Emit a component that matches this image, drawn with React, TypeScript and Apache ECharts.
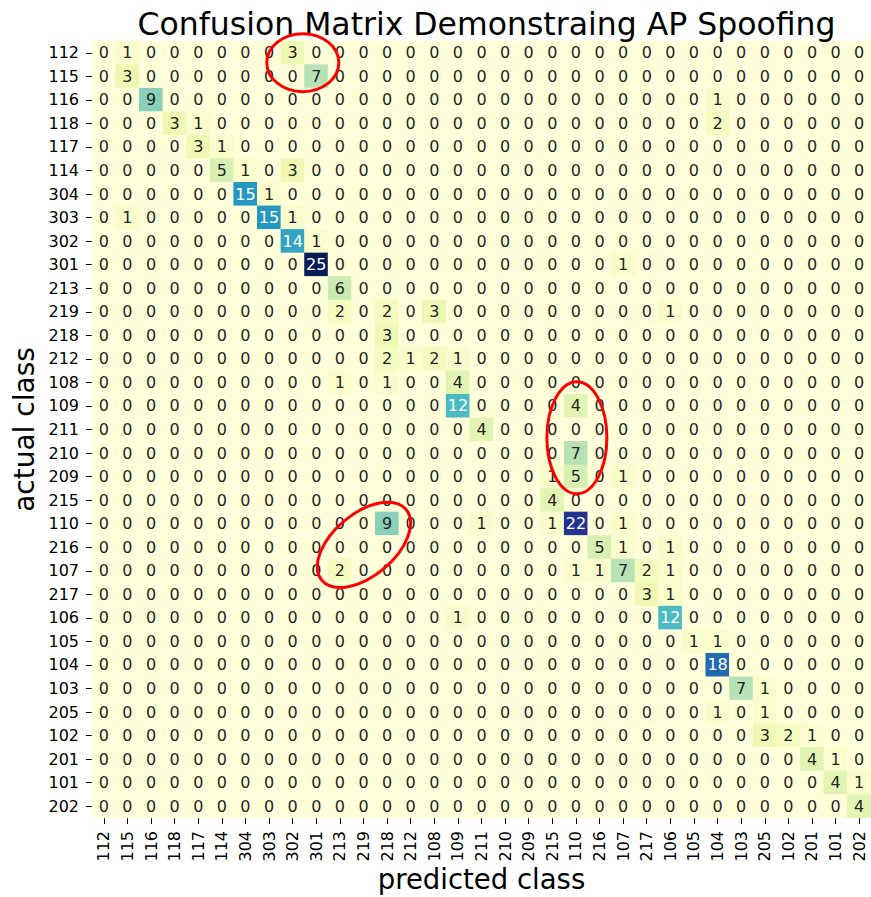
import React, { useEffect, useRef } from "react";
import * as echarts from "echarts";

// Class labels, in the same order on both axes
const classes = [
  "112", "115", "116", "118", "117", "114", "304", "303", "302", "301", "213",
  "219", "218", "212", "108", "109", "211", "210", "209", "215", "110", "216",
  "107", "217", "106", "105", "104", "103", "205", "102", "201", "101", "202",
];

// Confusion counts: one row per actual class, one column per predicted class
const matrix: number[][] = [
  [0, 1, 0, 0, 0, 0, 0, 0, 3, 0, 0, 0, 0, 0, 0, 0, 0, 0, 0, 0, 0, 0, 0, 0, 0, 0, 0, 0, 0, 0, 0, 0, 0],
  [0, 3, 0, 0, 0, 0, 0, 0, 0, 7, 0, 0, 0, 0, 0, 0, 0, 0, 0, 0, 0, 0, 0, 0, 0, 0, 0, 0, 0, 0, 0, 0, 0],
  [0, 0, 9, 0, 0, 0, 0, 0, 0, 0, 0, 0, 0, 0, 0, 0, 0, 0, 0, 0, 0, 0, 0, 0, 0, 0, 1, 0, 0, 0, 0, 0, 0],
  [0, 0, 0, 3, 1, 0, 0, 0, 0, 0, 0, 0, 0, 0, 0, 0, 0, 0, 0, 0, 0, 0, 0, 0, 0, 0, 2, 0, 0, 0, 0, 0, 0],
  [0, 0, 0, 0, 3, 1, 0, 0, 0, 0, 0, 0, 0, 0, 0, 0, 0, 0, 0, 0, 0, 0, 0, 0, 0, 0, 0, 0, 0, 0, 0, 0, 0],
  [0, 0, 0, 0, 0, 5, 1, 0, 3, 0, 0, 0, 0, 0, 0, 0, 0, 0, 0, 0, 0, 0, 0, 0, 0, 0, 0, 0, 0, 0, 0, 0, 0],
  [0, 0, 0, 0, 0, 0, 15, 1, 0, 0, 0, 0, 0, 0, 0, 0, 0, 0, 0, 0, 0, 0, 0, 0, 0, 0, 0, 0, 0, 0, 0, 0, 0],
  [0, 1, 0, 0, 0, 0, 0, 15, 1, 0, 0, 0, 0, 0, 0, 0, 0, 0, 0, 0, 0, 0, 0, 0, 0, 0, 0, 0, 0, 0, 0, 0, 0],
  [0, 0, 0, 0, 0, 0, 0, 0, 14, 1, 0, 0, 0, 0, 0, 0, 0, 0, 0, 0, 0, 0, 0, 0, 0, 0, 0, 0, 0, 0, 0, 0, 0],
  [0, 0, 0, 0, 0, 0, 0, 0, 0, 25, 0, 0, 0, 0, 0, 0, 0, 0, 0, 0, 0, 0, 1, 0, 0, 0, 0, 0, 0, 0, 0, 0, 0],
  [0, 0, 0, 0, 0, 0, 0, 0, 0, 0, 6, 0, 0, 0, 0, 0, 0, 0, 0, 0, 0, 0, 0, 0, 0, 0, 0, 0, 0, 0, 0, 0, 0],
  [0, 0, 0, 0, 0, 0, 0, 0, 0, 0, 2, 0, 2, 0, 3, 0, 0, 0, 0, 0, 0, 0, 0, 0, 1, 0, 0, 0, 0, 0, 0, 0, 0],
  [0, 0, 0, 0, 0, 0, 0, 0, 0, 0, 0, 0, 3, 0, 0, 0, 0, 0, 0, 0, 0, 0, 0, 0, 0, 0, 0, 0, 0, 0, 0, 0, 0],
  [0, 0, 0, 0, 0, 0, 0, 0, 0, 0, 0, 0, 2, 1, 2, 1, 0, 0, 0, 0, 0, 0, 0, 0, 0, 0, 0, 0, 0, 0, 0, 0, 0],
  [0, 0, 0, 0, 0, 0, 0, 0, 0, 0, 1, 0, 1, 0, 0, 4, 0, 0, 0, 0, 0, 0, 0, 0, 0, 0, 0, 0, 0, 0, 0, 0, 0],
  [0, 0, 0, 0, 0, 0, 0, 0, 0, 0, 0, 0, 0, 0, 0, 12, 0, 0, 0, 0, 4, 0, 0, 0, 0, 0, 0, 0, 0, 0, 0, 0, 0],
  [0, 0, 0, 0, 0, 0, 0, 0, 0, 0, 0, 0, 0, 0, 0, 0, 4, 0, 0, 0, 0, 0, 0, 0, 0, 0, 0, 0, 0, 0, 0, 0, 0],
  [0, 0, 0, 0, 0, 0, 0, 0, 0, 0, 0, 0, 0, 0, 0, 0, 0, 0, 0, 0, 7, 0, 0, 0, 0, 0, 0, 0, 0, 0, 0, 0, 0],
  [0, 0, 0, 0, 0, 0, 0, 0, 0, 0, 0, 0, 0, 0, 0, 0, 0, 0, 0, 1, 5, 0, 1, 0, 0, 0, 0, 0, 0, 0, 0, 0, 0],
  [0, 0, 0, 0, 0, 0, 0, 0, 0, 0, 0, 0, 0, 0, 0, 0, 0, 0, 0, 4, 0, 0, 0, 0, 0, 0, 0, 0, 0, 0, 0, 0, 0],
  [0, 0, 0, 0, 0, 0, 0, 0, 0, 0, 0, 0, 9, 0, 0, 0, 1, 0, 0, 1, 22, 0, 1, 0, 0, 0, 0, 0, 0, 0, 0, 0, 0],
  [0, 0, 0, 0, 0, 0, 0, 0, 0, 0, 0, 0, 0, 0, 0, 0, 0, 0, 0, 0, 0, 5, 1, 0, 1, 0, 0, 0, 0, 0, 0, 0, 0],
  [0, 0, 0, 0, 0, 0, 0, 0, 0, 0, 2, 0, 0, 0, 0, 0, 0, 0, 0, 0, 1, 1, 7, 2, 1, 0, 0, 0, 0, 0, 0, 0, 0],
  [0, 0, 0, 0, 0, 0, 0, 0, 0, 0, 0, 0, 0, 0, 0, 0, 0, 0, 0, 0, 0, 0, 0, 3, 1, 0, 0, 0, 0, 0, 0, 0, 0],
  [0, 0, 0, 0, 0, 0, 0, 0, 0, 0, 0, 0, 0, 0, 0, 1, 0, 0, 0, 0, 0, 0, 0, 0, 12, 0, 0, 0, 0, 0, 0, 0, 0],
  [0, 0, 0, 0, 0, 0, 0, 0, 0, 0, 0, 0, 0, 0, 0, 0, 0, 0, 0, 0, 0, 0, 0, 0, 0, 1, 1, 0, 0, 0, 0, 0, 0],
  [0, 0, 0, 0, 0, 0, 0, 0, 0, 0, 0, 0, 0, 0, 0, 0, 0, 0, 0, 0, 0, 0, 0, 0, 0, 0, 18, 0, 0, 0, 0, 0, 0],
  [0, 0, 0, 0, 0, 0, 0, 0, 0, 0, 0, 0, 0, 0, 0, 0, 0, 0, 0, 0, 0, 0, 0, 0, 0, 0, 0, 7, 1, 0, 0, 0, 0],
  [0, 0, 0, 0, 0, 0, 0, 0, 0, 0, 0, 0, 0, 0, 0, 0, 0, 0, 0, 0, 0, 0, 0, 0, 0, 0, 1, 0, 1, 0, 0, 0, 0],
  [0, 0, 0, 0, 0, 0, 0, 0, 0, 0, 0, 0, 0, 0, 0, 0, 0, 0, 0, 0, 0, 0, 0, 0, 0, 0, 0, 0, 3, 2, 1, 0, 0],
  [0, 0, 0, 0, 0, 0, 0, 0, 0, 0, 0, 0, 0, 0, 0, 0, 0, 0, 0, 0, 0, 0, 0, 0, 0, 0, 0, 0, 0, 0, 4, 1, 0],
  [0, 0, 0, 0, 0, 0, 0, 0, 0, 0, 0, 0, 0, 0, 0, 0, 0, 0, 0, 0, 0, 0, 0, 0, 0, 0, 0, 0, 0, 0, 0, 4, 1],
  [0, 0, 0, 0, 0, 0, 0, 0, 0, 0, 0, 0, 0, 0, 0, 0, 0, 0, 0, 0, 0, 0, 0, 0, 0, 0, 0, 0, 0, 0, 0, 0, 4],
];

// YlGnBu colour ramp
const ylGnBu = [
  "#ffffd9", "#edf8b1", "#c7e9b4", "#7fcdbb", "#41b6c4",
  "#1d91c0", "#225ea8", "#253494", "#081d58",
];

// Red call-out ellipses, in cell units (column, row) with radii in pixels
const callouts = [
  { col: 8.43, row: 0.42, rx: 36, ry: 29, angle: 0 },
  { col: 20.04, row: 16.35, rx: 30, ry: 56, angle: 0 },
  { col: 11.02, row: 20.9, rx: 55, ry: 31, angle: 40 },
];

const FONT = "DejaVu Sans";
const GRID = { left: 92, top: 41, width: 779, height: 777 };

export default function App() {
  const ref = useRef<HTMLDivElement>(null);

  useEffect(() => {
    if (!ref.current) return;
    const chart = echarts.init(ref.current, null, { renderer: "svg" });

    const maxVal = 25;
    const cells: any[] = [];
    matrix.forEach((row, r) =>
      row.forEach((v, c) => {
        cells.push({
          value: [c, r, v],
          label: { color: v >= 12 ? "#ffffff" : "#262626" },
        });
      })
    );

    const n = classes.length;
    const cw = GRID.width / n;
    const ch = GRID.height / n;

    const ellipses = callouts.map((e) => ({
      type: "ellipse",
      x: GRID.left + (e.col + 0.5) * cw,
      y: GRID.top + (e.row + 0.5) * ch,
      rotation: (e.angle * Math.PI) / 180,
      shape: { cx: 0, cy: 0, rx: e.rx, ry: e.ry },
      style: { fill: "none", stroke: "#ff0000", lineWidth: 3 },
      silent: true,
      z: 100,
    }));

    chart.setOption({
      animation: false,
      backgroundColor: "#ffffff",
      title: {
        text: "Confusion Matrix Demonstraing AP Spoofing",
        left: GRID.left + GRID.width / 2,
        textAlign: "center",
        top: 3,
        textStyle: { fontFamily: FONT, fontSize: 31.5, fontWeight: "normal", color: "#000000" },
      },
      grid: { ...GRID, containLabel: false, outerBoundsMode: "none" },
      xAxis: {
        type: "category",
        data: classes,
        position: "bottom",
        name: "predicted class",
        nameLocation: "middle",
        nameGap: 47,
        nameMoveOverlap: false,
        nameTextStyle: { fontFamily: FONT, fontSize: 27.5, color: "#000000" },
        axisLine: { show: false },
        axisTick: { show: true, alignWithLabel: true, length: 6, lineStyle: { color: "#000000" } },
        axisLabel: { interval: 0, rotate: 90, margin: 13, fontFamily: FONT, fontSize: 16, color: "#000000" },
        splitLine: { show: false },
      },
      yAxis: {
        type: "category",
        data: classes,
        inverse: true,
        name: "actual class",
        nameLocation: "middle",
        nameGap: 54,
        nameMoveOverlap: false,
        nameTextStyle: { fontFamily: FONT, fontSize: 28, color: "#000000" },
        axisLine: { show: false },
        axisTick: { show: true, alignWithLabel: true, length: 6, lineStyle: { color: "#000000" } },
        axisLabel: { interval: 0, margin: 13, fontFamily: FONT, fontSize: 16, color: "#000000" },
        splitLine: { show: false },
      },
      visualMap: {
        show: false,
        type: "continuous",
        min: 0,
        max: maxVal,
        dimension: 2,
        inRange: { color: ylGnBu },
      },
      series: [
        {
          type: "heatmap",
          data: cells,
          label: { show: true, fontFamily: FONT, fontSize: 16 },
          itemStyle: { borderWidth: 0 },
          emphasis: { disabled: true },
        },
      ],
      graphic: ellipses,
    });

    return () => chart.dispose();
  }, []);

  return (
    <div
      ref={ref}
      style={{ position: "absolute", left: 0, top: 0, width: 871, height: 897 }}
    />
  );
}
